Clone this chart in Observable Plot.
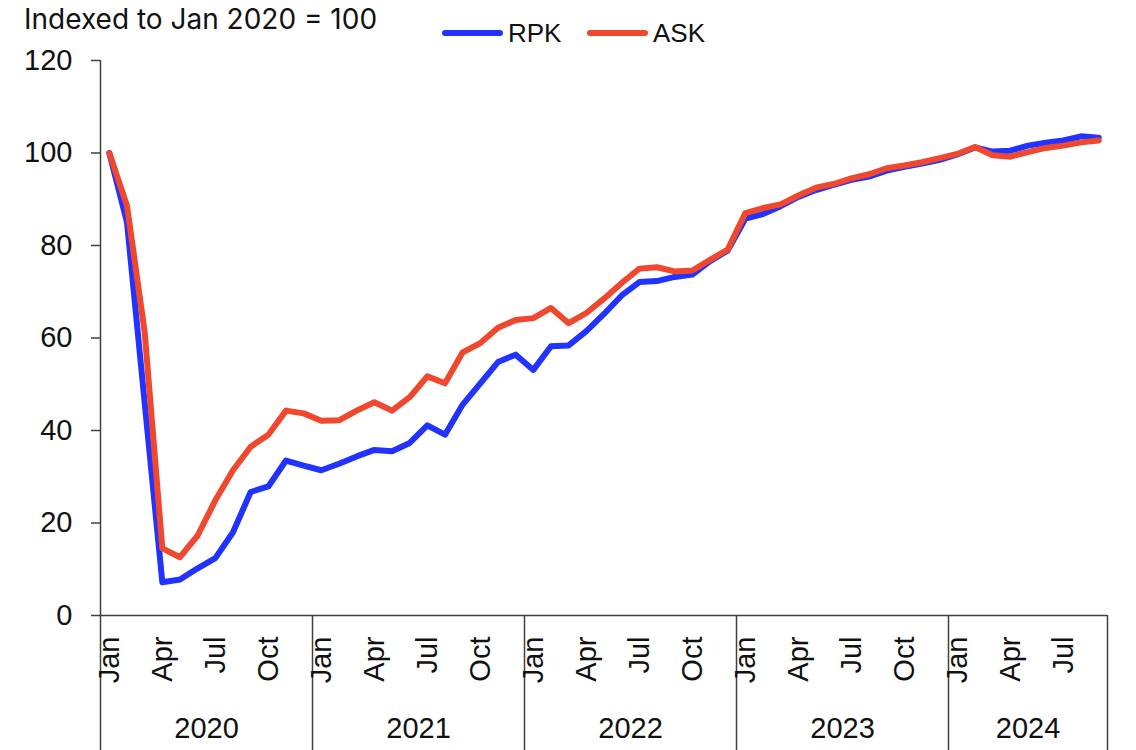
<!DOCTYPE html>
<html>
<head>
<meta charset="utf-8">
<script src="https://cdn.jsdelivr.net/npm/d3@7"></script>
<script src="https://cdn.jsdelivr.net/npm/@observablehq/plot@0.6"></script>
<style>
  html, body { margin: 0; padding: 0; background: #fff; }
  #head { position: relative; width: 1136px; height: 45px; color: #111; }
  #title { position: absolute; left: 24px; top: 5px; font-family: Inter, "Liberation Sans", sans-serif; font-size: 28px; line-height: 28px; white-space: nowrap; }
  .sw { position: absolute; top: 30px; width: 61px; height: 6px; border-radius: 3px; }
  .lab { position: absolute; top: 20px; font-family: "Liberation Sans", Arial, sans-serif; font-size: 26px; line-height: 26px; white-space: nowrap; }
  #chart svg { display: block; }
</style>
</head>
<body>
<div id="head"><div id="title">Indexed to Jan 2020 = 100</div></div>
<div id="chart"></div>
<script>
// ---- data ----
const months = [
  "2020-01","2020-02","2020-03","2020-04","2020-05","2020-06","2020-07","2020-08","2020-09","2020-10","2020-11","2020-12",
  "2021-01","2021-02","2021-03","2021-04","2021-05","2021-06","2021-07","2021-08","2021-09","2021-10","2021-11","2021-12",
  "2022-01","2022-02","2022-03","2022-04","2022-05","2022-06","2022-07","2022-08","2022-09","2022-10","2022-11","2022-12",
  "2023-01","2023-02","2023-03","2023-04","2023-05","2023-06","2023-07","2023-08","2023-09","2023-10","2023-11","2023-12",
  "2024-01","2024-02","2024-03","2024-04","2024-05","2024-06","2024-07","2024-08","2024-09"
];
const rpk = [
  100, 85.0, 46.0, 7.2, 7.8, 10.2, 12.4, 18.0, 26.7, 27.9, 33.5, 32.4,
  31.4, 32.8, 34.4, 35.8, 35.5, 37.3, 41.1, 39.1, 45.6, 50.2, 54.8, 56.4,
  53.1, 58.2, 58.4, 61.5, 65.2, 69.2, 72.1, 72.3, 73.2, 73.7, 76.6, 78.9,
  85.8, 86.8, 88.5, 90.5, 92.0, 93.1, 94.2, 94.9, 96.2, 97.0, 97.7, 98.5,
  99.7, 101.2, 100.3, 100.5, 101.6, 102.2, 102.7, 103.6, 103.3
];
const ask = [
  100, 88.6, 61.3, 14.5, 12.6, 17.3, 24.9, 31.4, 36.5, 39.1, 44.3, 43.7,
  42.1, 42.2, 44.3, 46.1, 44.3, 47.2, 51.7, 50.2, 56.9, 58.9, 62.2, 63.9,
  64.3, 66.5, 63.2, 65.4, 68.5, 71.9, 75.0, 75.3, 74.4, 74.6, 76.9, 79.1,
  87.0, 88.1, 88.9, 90.8, 92.5, 93.3, 94.5, 95.4, 96.7, 97.3, 98.0, 98.9,
  99.8, 101.3, 99.5, 99.2, 100.2, 101.1, 101.6, 102.3, 102.7
];
const seriesNames = ["RPK", "ASK"];
const seriesColors = ["#2233ff", "#f0472f"];
const monthNames = ["Jan","Feb","Mar","Apr","May","Jun","Jul","Aug","Sep","Oct","Nov","Dec"];
const labelledMonths = ["Jan","Apr","Jul","Oct"];
const yTicks = [0, 20, 40, 60, 80, 100, 120];
const titleText = "Indexed to Jan 2020 = 100";

// ---- legend (HTML above the SVG) ----
const head = document.getElementById("head");
document.getElementById("title").textContent = titleText;
const legendPos = [{sw: 442, lab: 508}, {sw: 587, lab: 653}];
seriesNames.forEach((name, k) => {
  const sw = document.createElement("div");
  sw.className = "sw"; sw.style.left = legendPos[k].sw + "px"; sw.style.background = seriesColors[k];
  head.appendChild(sw);
  const lab = document.createElement("div");
  lab.className = "lab"; lab.style.left = legendPos[k].lab + "px"; lab.textContent = name;
  head.appendChild(lab);
});

// ---- derived tables ----
const rows = months.map((m, i) => ({i, m, rpk: rpk[i], ask: ask[i]}));
const monthLabels = rows
  .map(d => ({i: d.i, label: monthNames[+d.m.slice(5, 7) - 1]}))
  .filter(d => labelledMonths.includes(d.label));
const years = Array.from(d3.group(rows, d => d.m.slice(0, 4)), ([year, g]) => ({
  year, first: g[0].i, last: g[g.length - 1].i
}));
const dividers = years.map(y => y.first - 0.5).concat([years[years.length - 1].last + 0.5]);

const chart = Plot.plot({
  width: 1136,
  height: 705,
  marginLeft: 100,
  marginRight: 29,
  marginTop: 15,
  marginBottom: 135,
  style: {fontFamily: "'Liberation Sans', Arial, sans-serif", fontSize: "28px", color: "#111", background: "#fff"},
  x: {domain: [-0.5, months.length - 0.5], axis: null},
  y: {domain: [0, 120], axis: null},
  marks: [
    Plot.axisY({ticks: yTicks, tickSize: 9, tickPadding: 19, fontSize: 29, label: null, stroke: "#404040", strokeWidth: 1.5}),
    Plot.ruleX([-0.5], {y1: 0, y2: 120, stroke: "#404040", strokeWidth: 1.5}),
    Plot.ruleY([0], {stroke: "#404040", strokeWidth: 1.5}),
    Plot.ruleX(dividers, {y1: 0, y2: 0, insetBottom: -135, stroke: "#404040", strokeWidth: 1.5}),
    Plot.text(monthLabels, {x: "i", text: "label", frameAnchor: "bottom", dy: 21, rotate: -90, textAnchor: "end", lineAnchor: "middle", fontSize: 29, fill: "#111"}),
    Plot.text(years, {x: d => (d.first + d.last) / 2, text: "year", frameAnchor: "bottom", dy: 113, lineAnchor: "middle", fontSize: 29, fill: "#111"}),
    Plot.lineY(rows, {x: "i", y: "rpk", stroke: seriesColors[0], strokeWidth: 6}),
    Plot.lineY(rows, {x: "i", y: "ask", stroke: seriesColors[1], strokeWidth: 6})
  ]
});
document.getElementById("chart").appendChild(chart);
</script>
</body>
</html>
